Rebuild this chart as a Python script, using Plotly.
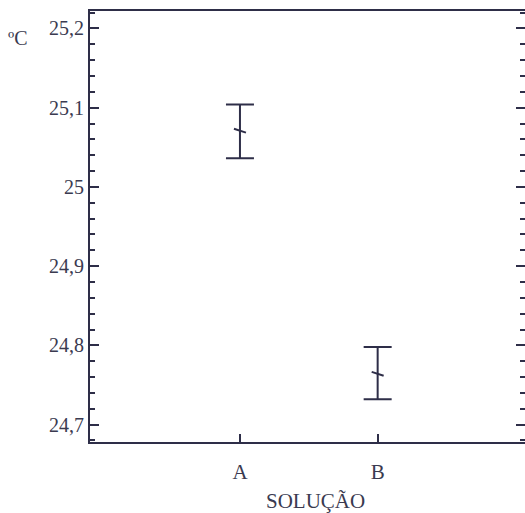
import plotly.graph_objects as go

# ---- data ----
categories = ["A", "B"]
means = [25.071, 24.764]
upper = [25.104, 24.798]
lower = [25.036, 24.732]
ytick_vals = [24.7, 24.8, 24.9, 25.0, 25.1, 25.2]
ytick_text = ["24,7", "24,8", "24,9", "25", "25,1", "25,2"]
x_title = "SOLUÇÃO"
y_unit = "ºC"

INK = "#2e2e48"
TXT = "#3a3a50"
FONT = "Liberation Serif, Times New Roman, serif"
YR = [24.678, 25.222]

err_plus = [u - m for u, m in zip(upper, means)]
err_minus = [m - l for m, l in zip(means, lower)]

fig = go.Figure()
fig.add_trace(go.Scatter(
    x=categories, y=means, mode="markers",
    marker=dict(symbol="line-ew", size=9, angle=18,
                line=dict(color=INK, width=2)),
    error_y=dict(type="data", symmetric=False, array=err_plus,
                 arrayminus=err_minus, color=INK, thickness=2, width=14),
    showlegend=False, hoverinfo="skip",
))
# invisible trace to carry the mirrored right-hand axis
fig.add_trace(go.Scatter(
    x=categories, y=means, yaxis="y2", mode="markers",
    marker=dict(opacity=0), showlegend=False, hoverinfo="skip",
))

minor = dict(ticks="inside", ticklen=5, tickwidth=2, tickcolor=INK,
             tick0=24.7, dtick=0.02, showgrid=False)

fig.update_layout(
    width=525, height=513,
    margin=dict(l=90, r=0, t=11, b=71),
    paper_bgcolor="white", plot_bgcolor="white",
    font=dict(family=FONT, color=TXT),
    xaxis=dict(
        type="category", range=[-1.089, 2.07],
        showline=True, linecolor=INK, linewidth=2, mirror=True,
        ticks="inside", ticklen=8, tickwidth=2, tickcolor=INK,
        showgrid=False, zeroline=False,
        tickfont=dict(size=21, family=FONT, color=TXT),
        ticklabelstandoff=10,
    ),
    yaxis=dict(
        range=YR, tickmode="array", tickvals=ytick_vals, ticktext=ytick_text,
        showline=True, linecolor=INK, linewidth=2,
        ticks="inside", ticklen=9, tickwidth=2, tickcolor=INK,
        showgrid=False, zeroline=False,
        tickfont=dict(size=20, family=FONT, color=TXT),
        minor=minor,
    ),
    yaxis2=dict(
        overlaying="y", side="right", range=YR,
        tickmode="array", tickvals=ytick_vals, showticklabels=False,
        showline=False, ticks="inside", ticklen=9, tickwidth=2, tickcolor=INK,
        showgrid=False, zeroline=False, minor=minor,
    ),
    annotations=[
        dict(text=x_title, xref="paper", yref="paper", x=0.5195, y=-0.136,
             xanchor="center", yanchor="middle", showarrow=False,
             font=dict(size=21, family=FONT, color=TXT)),
        dict(text=y_unit, xref="paper", yref="paper", x=-0.1655, y=0.937,
             xanchor="center", yanchor="middle", showarrow=False,
             font=dict(size=20, family=FONT, color=TXT)),
    ],
)

fig.write_html(
    "out.html",
    config={"displayModeBar": False, "staticPlot": True},
    post_script="document.body.style.margin='0';document.body.style.overflow='hidden';",
)
